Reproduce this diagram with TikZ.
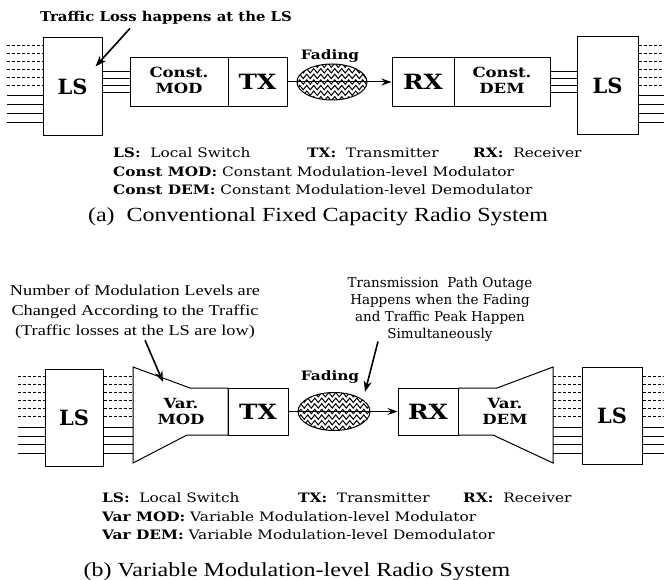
\documentclass[tikz,border=0pt]{standalone}
\usepackage{graphicx}
\usepackage{fontspec}
\setmainfont{Liberation Serif}
\newfontfamily\cs{DejaVu Serif}
\newcommand{\sx}[1]{\scalebox{1.18}[1]{#1}}
\newcommand{\twol}[2]{\sx{\begin{tabular}{@{}c@{}}#1\\#2\end{tabular}}}
\usetikzlibrary{shapes.geometric,arrows.meta,decorations.pathmorphing,calc}
\tikzset{
  ln/.style={line width=1pt},
  dl/.style={line width=1pt,dash pattern=on 3pt off 2pt},
  box/.style={draw,line width=1pt,inner sep=0pt,align=center},
  big/.style={font=\cs\bfseries\fontsize{21}{21}\selectfont},
  mid/.style={font=\cs\bfseries\fontsize{14}{16}\selectfont},
  fad/.style={ellipse,draw,line width=1pt,inner sep=0pt,
    path picture={\foreach \k in {-4,...,4}
      \draw[line width=1pt,decorate,decoration={zigzag,segment length=7pt,amplitude=2.2pt}]
        ([xshift=-6pt]path picture bounding box.west) ++(0,\k*5.6) -- ++(90,0);}},
  flab/.style={font=\cs\bfseries\fontsize{13}{13}\selectfont,anchor=base},
  leg/.style={font=\cs\fontsize{13}{13}\selectfont,anchor=base west,inner sep=0pt},
  captxt/.style={font=\fontsize{20}{20}\selectfont,anchor=base,inner sep=0pt},
  note/.style={line width=1.6pt,-{Stealth[length=11pt,width=8pt]}},
  flow/.style={line width=1pt,-{Stealth[length=10pt,width=7pt]}}
}
\begin{document}
\begin{tikzpicture}[x=1pt,y=-1pt]
\useasboundingbox (0,0) rectangle (664,580);
% ================= (a) =================
\node[font=\cs\bfseries\fontsize{13.5}{13.5}\selectfont,anchor=base] (noteA) at (166,22) {\scalebox{1.1}[1]{Traffic Loss happens at the LS}};
\node[box,big,minimum width=59pt,minimum height=98pt] (lsA) at (72.5,87) {LS};
\node[box,mid,minimum width=98pt,minimum height=49pt] (modA) at (179,82) {\twol{Const.}{MOD}};
\node[box,big,minimum width=59pt,minimum height=49pt] (txA) at (257.5,82) {\sx{TX}};
\node[fad,minimum width=70pt,minimum height=36pt] (fadA) at (332,82) {};
\node[flab] (fadlA) at (330,60) {\sx{Fading}};
\node[box,big,minimum width=62pt,minimum height=49pt] (rxA) at (423,82) {\sx{RX}};
\node[box,mid,minimum width=96pt,minimum height=49pt] (demA) at (502,82) {\twol{Const.}{DEM}};
\node[box,big,minimum width=61pt,minimum height=98pt] (lsA2) at (607.5,86) {LS};
\coordinate (inA) at (7,0);
\coordinate (outA) at (664,0);
\foreach \y in {46,54,62,70,78,86} {
  \path (0,\y) coordinate (h);
  \draw[dl] (inA |- h) -- (lsA.west |- h);
  \draw[dl] (lsA2.east |- h) -- (outA |- h);
}
\foreach \y in {96,105,114,123} {
  \path (0,\y) coordinate (h);
  \draw[ln] (inA |- h) -- (lsA.west |- h);
  \draw[ln] (lsA2.east |- h) -- (outA |- h);
}
\foreach \y in {72,79,86,93} {
  \path (0,\y) coordinate (h);
  \draw[ln] (lsA.east |- h) -- (modA.west |- h);
  \draw[ln] (demA.east |- h) -- (lsA2.west |- h);
}
\draw[ln] (txA.east) -- (fadA.west);
\draw[ln] (fadA.west) -- (fadA.east);
\draw[flow] (fadA.east) -- (rxA.west);
\draw[note] ($(noteA.south)+(-36,0)$) -- ($(lsA.north east)+(-7,29)$);
% legend (a)
\node[leg] (la1) at (113,158) {\sx{\textbf{LS:}\ \ Local Switch}};
\node[leg] (la2) at (307,158) {\sx{\textbf{TX:}\ \ Transmitter}};
\node[leg] (la3) at (473,158) {\sx{\textbf{RX:}\ \ Receiver}};
\node[leg] (la4) at (113,177) {\sx{\textbf{Const MOD:} Constant Modulation-level Modulator}};
\node[leg] (la5) at (113,195) {\sx{\textbf{Const DEM:} Constant Modulation-level Demodulator}};
\node[captxt] (capA) at (318,222) {\scalebox{1.2}[1]{(a)\ \ Conventional Fixed Capacity Radio System}};
% ================= (b) =================
\node[font=\fontsize{15}{20}\selectfont,anchor=base,inner sep=0pt] (noteB1) at (135,335)
  {\scalebox{1.22}[1]{\begin{tabular}[b]{@{}c@{}}Number of Modulation Levels are\\Changed According to the Traffic\\(Traffic losses at the LS are low)\end{tabular}}};
\node[font=\cs\fontsize{13.5}{16.7}\selectfont,align=center,anchor=base] (noteB2) at (440,338)
  {Transmission\ \ Path Outage\\Happens when the Fading\\and Traffic Peak Happen\\Simultaneously};
\node[box,big,minimum width=58pt,minimum height=97pt] (lsB) at (74,417.5) {LS};
\draw[ln] (133,367) -- (190,388) -- (228,388) -- (228,435) -- (187,435) -- (133,463) -- cycle;
\coordinate (modBw) at (133,415);
\node[mid,align=center] (modB) at (181,413) {\twol{Var.}{MOD}};
\node[box,big,minimum width=60pt,minimum height=47pt] (txB) at (258,411.5) {\sx{TX}};
\node[fad,minimum width=72pt,minimum height=38pt] (fadB) at (334,411.5) {};
\node[flab] (fadlB) at (330,380) {\sx{Fading}};
\node[box,big,minimum width=60pt,minimum height=47pt] (rxB) at (428,411.5) {\sx{RX}};
\draw[ln] (458,388) -- (497,388) -- (553,367) -- (553,463) -- (493,435) -- (458,435);
\coordinate (demBe) at (553,415);
\node[mid,align=center] (demB) at (505,413) {\twol{Var.}{DEM}};
\node[box,big,minimum width=60pt,minimum height=97pt] (lsB2) at (612,415.5) {LS};
\coordinate (inB) at (18,0);
\coordinate (outB) at (664,0);
\foreach \y in {376,384,392,400,408,416} {
  \path (0,\y) coordinate (h);
  \draw[dl] (inB |- h) -- (lsB.west |- h);
  \draw[dl] (lsB.east |- h) -- (modBw |- h);
  \draw[dl] (demBe |- h) -- (lsB2.west |- h);
  \draw[dl] (lsB2.east |- h) -- (outB |- h);
}
\foreach \y in {427,436,444,453} {
  \path (0,\y) coordinate (h);
  \draw[ln] (inB |- h) -- (lsB.west |- h);
  \draw[ln] (lsB.east |- h) -- (modBw |- h);
  \draw[ln] (demBe |- h) -- (lsB2.west |- h);
  \draw[ln] (lsB2.east |- h) -- (outB |- h);
}
\draw[ln] (txB.east) -- (fadB.west);
\draw[ln] (fadB.west) -- (fadB.east);
\draw[flow] (fadB.east) -- (rxB.west);
\draw[note] ($(noteB1.south)+(10,-1)$) -- (163,382);
\draw[note] ($(noteB2.south)+(-62,-3)$) -- ($(fadB.north)+(31,0)$);
% legend (b)
\node[leg] (lb1) at (102,502) {\sx{\textbf{LS:}\ \ Local Switch}};
\node[leg] (lb2) at (298,502) {\sx{\textbf{TX:}\ \ Transmitter}};
\node[leg] (lb3) at (463,502) {\sx{\textbf{RX:}\ \ Receiver}};
\node[leg] (lb4) at (102,521) {\sx{\textbf{Var MOD:} Variable Modulation-level Modulator}};
\node[leg] (lb5) at (102,539) {\sx{\textbf{Var DEM:} Variable Modulation-level Demodulator}};
\node[captxt] (capB) at (297,576) {\scalebox{1.2}[1]{(b) Variable Modulation-level Radio System}};
\end{tikzpicture}
\end{document}
